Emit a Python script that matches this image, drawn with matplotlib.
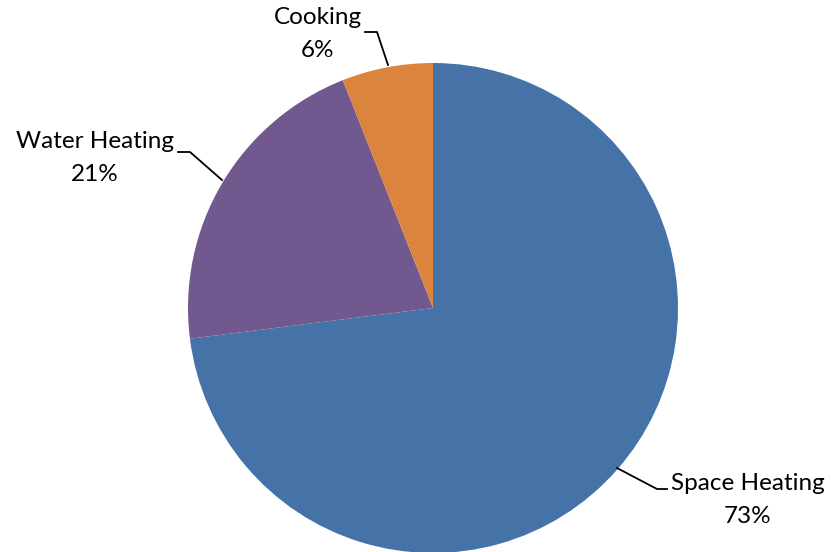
import matplotlib.pyplot as plt

# Household energy use by end use
labels = ['Space Heating', 'Water Heating', 'Cooking']
shares = [73, 21, 6]
colors = ['#4573A7', '#71588F', '#DB843D']

W, H = 832, 552
fig = plt.figure(figsize=(W / 100, H / 100), dpi=100)
ax = fig.add_axes([0, 0, 1, 1])

cx, cy, r = 433, 308, 245
# pie draws in a y-up frame, so flip the direction for the inverted axis
ax.pie(shares, colors=colors, startangle=-90, counterclock=True,
       center=(cx, cy), radius=r, frame=True,
       wedgeprops=dict(linewidth=0))
ax.set_xlim(0, W)
ax.set_ylim(H, 0)
ax.set_aspect('equal')
ax.axis('off')

font = dict(family=['Lato', 'DejaVu Sans'], fontsize=17.5, color='black',
            ha='center', va='center', linespacing=1.7)

# labels with leader lines
ax.text(318, 34, f'{labels[2]}\n{shares[2]}%', **font)
ax.plot([365, 377, 388], [32, 32, 65], color='black', lw=1.3)

ax.text(95, 158, f'{labels[1]}\n{shares[1]}%', **font)
ax.plot([178, 190, 222], [152, 152, 180], color='black', lw=1.3)

ax.text(748, 500, f'{labels[0]}\n{shares[0]}%', **font)
ax.plot([617, 657, 667], [468, 489, 489], color='black', lw=1.3)

fig.savefig('out.png', dpi=100, facecolor='white')
